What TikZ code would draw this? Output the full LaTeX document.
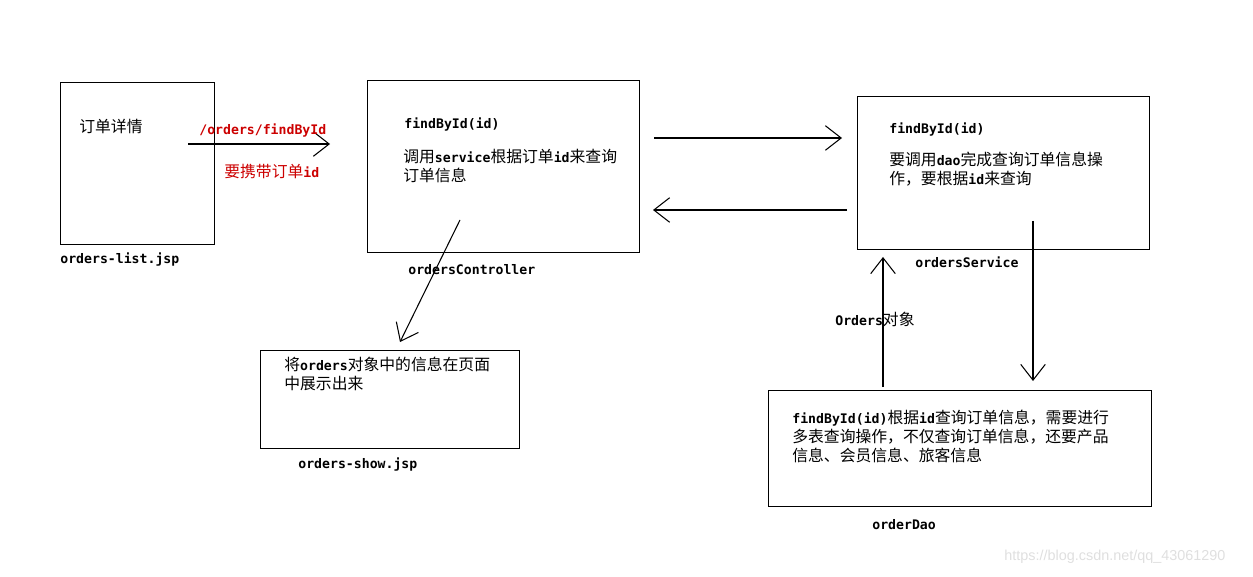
\documentclass[tikz,border=0pt]{standalone}
\usepackage{fontspec}
\usepackage{xcolor}
\usepackage{tikz}
\usetikzlibrary{arrows.meta, positioning}
\newfontfamily\cjkfont{Noto Sans CJK SC}
\newfontfamily\codefont{DejaVu Sans Mono}
\newfontfamily\wmfont{Liberation Sans}
\definecolor{linkred}{RGB}{204,0,0}
\newcommand{\cd}[1]{{\codefont\bfseries\fontsize{7.5}{10.6}\selectfont #1}}

\begin{document}
\begin{tikzpicture}[
    x=0.02cm, y=-0.02cm,
    box/.style={draw, line width=0.6pt, anchor=north west, inner sep=0},
    txt/.style={anchor=north west, inner sep=0, align=left,
                font=\cjkfont\fontsize{9}{10.6}\selectfont},
    lbl/.style={anchor=north west, inner sep=0,
                font=\codefont\bfseries\fontsize{7.5}{9}\selectfont},
    arr/.style={-{Straight Barb[length=9pt,width=14pt]}, line width=0.6pt},
]
\useasboundingbox (0,0) rectangle (1253,577);

% boxes
\node[box, minimum width=3.08cm, minimum height=3.24cm] (list) at (60,82) {};
\node[box, minimum width=5.44cm, minimum height=3.44cm] (ctrl) at (367,80) {};
\node[box, minimum width=5.84cm, minimum height=3.06cm] (svc)  at (857,96) {};
\node[box, minimum width=5.18cm, minimum height=1.96cm] (show) at (260,350) {};
\node[box, minimum width=7.66cm, minimum height=2.32cm] (dao)  at (768,390) {};

% names under the boxes
\node[lbl] (listname) at (60,252)  {orders-list.jsp};
\node[lbl] (ctrlname) at (408,264) {ordersController};
\node[lbl] (svcname)  at (915,256) {ordersService};
\node[lbl] (showname) at (298,457) {orders-show.jsp};
\node[lbl] (daoname)  at (872,519) {orderDao};

% texts in the boxes
\node[txt] (listtxt) at (79,119) {订单详情};
\node[lbl] (ctrlfn) at (404,117) {findById(id)};
\node[txt] (ctrltxt) at (403,149) {调用\cd{service}根据订单\cd{id}来查询\\订单信息};
\node[lbl] (svcfn) at (889,122) {findById(id)};
\node[txt] (svctxt) at (889,152) {要调用\cd{dao}完成查询订单信息操\\作，要根据\cd{id}来查询};
\node[txt] (showtxt) at (284,357) {将\cd{orders}对象中的信息在页面\\中展示出来};
\node[txt] (daotxt) at (792,410) {\cd{findById(id)}根据\cd{id}查询订单信息，需要进行\\多表查询操作，不仅查询订单信息，还要产品\\信息、会员信息、旅客信息};

% arrow ends
\coordinate (a1s) at (188,144);  \coordinate (a1e) at (330,144);
\coordinate (a2s) at (654,138);  \coordinate (a2e) at (842,138);
\coordinate (a3s) at (847,210);  \coordinate (a3e) at (653,210);
\coordinate (a4s) at (460,220);  \coordinate (a4e) at (400,342);
\coordinate (a5s) at (1033,221); \coordinate (a5e) at (1033,381);
\coordinate (a6s) at (883,387);  \coordinate (a6e) at (883,257);

\draw[arr] (a1s) -- (a1e);
\draw[arr] (a2s) -- (a2e);
\draw[arr] (a3s) -- (a3e);
\draw[arr] (a4s) -- (a4e);
\draw[arr] (a5s) -- (a5e);
\draw[arr] (a6s) -- (a6e);

% arrow labels
\node[lbl, text=linkred] (url) at (199,123) {/orders/findById};
\node[txt, text=linkred] (carry) at (224,164) {要携带订单\cd{id}};
\node[txt] (ret) at (835,312) {\cd{Orders}对象};

\node[anchor=north west, inner sep=0, text=gray!25,
      font=\wmfont\fontsize{8.2}{10}\selectfont] (wm) at (1004,550) {https://blog.csdn.net/qq\_43061290};
\end{tikzpicture}
\end{document}
